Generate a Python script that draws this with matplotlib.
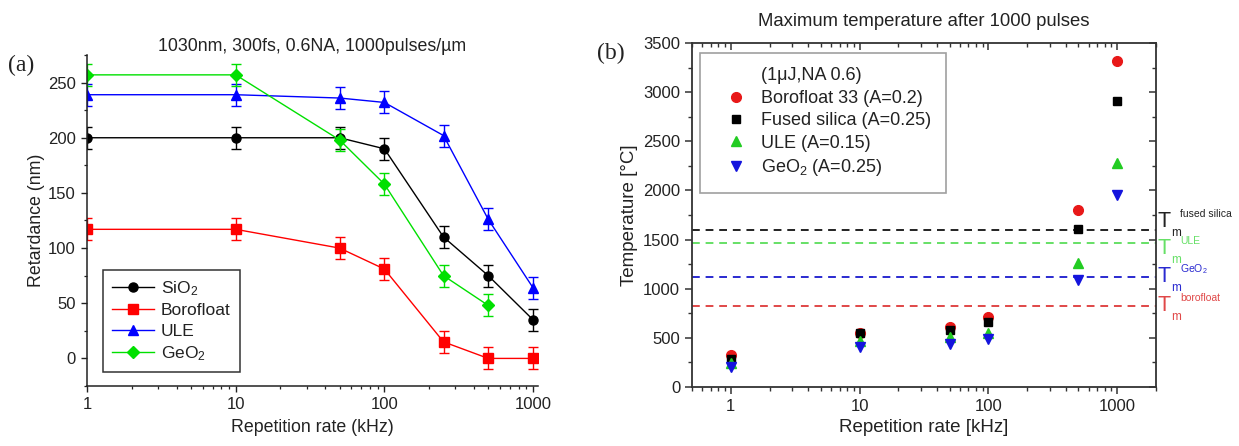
import matplotlib
matplotlib.use("Agg")
import matplotlib.pyplot as plt
from matplotlib.lines import Line2D
from matplotlib.ticker import FixedLocator, MultipleLocator, LogLocator, NullFormatter
from matplotlib.transforms import blended_transform_factory, offset_copy

plt.rcParams['font.family'] = ['Liberation Sans', 'DejaVu Sans']
plt.rcParams['mathtext.fontset'] = 'custom'
plt.rcParams['mathtext.rm'] = 'Liberation Sans'
plt.rcParams['mathtext.it'] = 'Liberation Sans:italic'

# ---------------- data: panel (a) ----------------
rate_a = [1, 10, 50, 100, 250, 500, 1000]
ret_sio2 = [200, 200, 200, 190, 110, 75, 35]
ret_boro = [117, 117, 100, 81, 15, 0, 0]
ret_ule = [239, 239, 236, 232, 202, 126, 64]
rate_geo2 = [1, 10, 50, 100, 250, 500]
ret_geo2 = [257, 257, 198, 158, 75, 48]
ret_err = 10
names_a = ['SiO$_2$', 'Borofloat', 'ULE', 'GeO$_2$']
title_a = '1030nm, 300fs, 0.6NA, 1000pulses/\u00b5m'

# ---------------- data: panel (b) ----------------
rate_b = [1, 10, 50, 100, 500, 1000]
t_boro = [325, 553, 612, 713, 1805, 3320]
t_fs = [285, 550, 582, 663, 1605, 2913]
t_ule = [245, 470, 508, 550, 1265, 2280]
t_geo2 = [205, 410, 437, 487, 1090, 1955]
names_b = ['Borofloat 33 (A=0.2)', 'Fused silica (A=0.25)', 'ULE (A=0.15)', 'GeO$_2$ (A=0.25)']
legend_title_b = '(1\u03bcJ,NA 0.6)'
tm_values = [1600, 1470, 1120, 828]
tm_names = ['fused silica', 'ULE', 'GeO$_2$', 'borofloat']
title_b = 'Maximum temperature after 1000 pulses'

W, H = 1239, 446
fig = plt.figure(figsize=(W / 100, H / 100), dpi=100)
tick_col = '#222222'

# ================= panel (a) =================
ax1 = fig.add_axes([87 / W, 60 / H, 451 / W, 331 / H])
cols_a = ['black', '#ff0000', '#0000ff', '#00e000']
marks_a = ['o', 's', '^', 'D']
msz_a = [6.5, 6.5, 7, 6]
xs_a = [rate_a, rate_a, rate_a, rate_geo2]
ys_a = [ret_sio2, ret_boro, ret_ule, ret_geo2]
handles_a = []
for x, y, c, m, ms, nm in zip(xs_a, ys_a, cols_a, marks_a, msz_a, names_a):
    ax1.errorbar(x, y, yerr=ret_err, color=c, marker=m, ms=ms, lw=1.0,
                 capsize=3.5, elinewidth=1.0, capthick=1.0)
    handles_a.append(Line2D([], [], color=c, marker=m, ms=ms, lw=1.0, label=nm))

ax1.set_xscale('log')
ax1.set_xlim(1, 1080)
ax1.set_ylim(-25, 275)
ax1.spines['top'].set_visible(False)
ax1.spines['right'].set_visible(False)
for s in ['left', 'bottom']:
    ax1.spines[s].set_linewidth(1.1)
    ax1.spines[s].set_color('#222222')
ax1.xaxis.set_major_locator(FixedLocator([1, 10, 100, 1000]))
ax1.set_xticklabels(['1', '10', '100', '1000'])
ax1.xaxis.set_minor_locator(LogLocator(base=10, subs=range(2, 10)))
ax1.xaxis.set_minor_formatter(NullFormatter())
ax1.yaxis.set_major_locator(MultipleLocator(50))
ax1.yaxis.set_minor_locator(MultipleLocator(25))
ax1.tick_params(which='major', direction='out', length=4.5, width=1.0,
                labelsize=12, labelcolor=tick_col, color='#222222')
ax1.tick_params(which='minor', direction='out', length=2.5, width=0.9, color='#222222')
ax1.set_xlabel('Repetition rate (kHz)', fontsize=12.8, color='#222222', labelpad=5)
ax1.set_ylabel('Retardance (nm)', fontsize=12.8, color='#222222', labelpad=2)
ax1.set_title(title_a, fontsize=12.8, color='#222222', pad=3)

leg1 = ax1.legend(handles=handles_a, loc='lower left', bbox_to_anchor=(0.035, 0.042),
                  borderaxespad=0, fontsize=12.5, frameon=True, fancybox=False,
                  edgecolor='black', handlelength=2.4, handletextpad=0.4,
                  labelspacing=0.3, borderpad=0.55)
leg1.get_frame().set_linewidth(1.1)
for t in leg1.get_texts():
    t.set_color('#222222')

fig.text(8 / W, 1 - 65 / H, '(a)', fontsize=17, family='Liberation Serif',
         va='center', ha='left', color='#222222')

# ================= panel (b) =================
ax2 = fig.add_axes([692 / W, 59 / H, 464 / W, 344 / H])
series_b = [t_boro, t_fs, t_ule, t_geo2]
cols_b = ['#e81818', '#000000', '#22cc22', '#1414dd']
marks_b = ['o', 's', '^', 'v']
msz_b = [7, 6, 7.5, 7.5]
handles_b = [Line2D([], [], linestyle='none', marker=None, label=legend_title_b)]
for y, c, m, ms, nm in zip(series_b, cols_b, marks_b, msz_b, names_b):
    ax2.plot(rate_b, y, linestyle='none', marker=m, ms=ms, color=c, mec=c, zorder=3)
    handles_b.append(Line2D([], [], linestyle='none', marker=m, ms=ms, color=c, label=nm))

tm_cols = ['#222222', '#66e066', '#2a2ad0', '#e04848']
for v, c in zip(tm_values, tm_cols):
    ax2.axhline(v, color=c, ls=(0, (4, 3)), lw=1.4, zorder=2)

ax2.set_xscale('log')
ax2.set_xlim(0.5, 2000)
ax2.set_ylim(0, 3500)
for s in ax2.spines.values():
    s.set_linewidth(1.3)
    s.set_color('#333333')
ax2.xaxis.set_major_locator(FixedLocator([1, 10, 100, 1000]))
ax2.set_xticklabels(['1', '10', '100', '1000'])
ax2.xaxis.set_minor_locator(LogLocator(base=10, subs=range(2, 10)))
ax2.xaxis.set_minor_formatter(NullFormatter())
ax2.yaxis.set_major_locator(MultipleLocator(500))
ax2.yaxis.set_minor_locator(MultipleLocator(250))
ax2.tick_params(which='major', direction='out', length=5, width=1.1,
                labelsize=12, labelcolor=tick_col, color='#333333')
ax2.tick_params(which='minor', direction='out', length=3, width=1.0, color='#333333')

# inward ticks on top and right
sx = ax2.secondary_xaxis('top')
sx.xaxis.set_major_locator(FixedLocator([1, 10, 100, 1000]))
sx.xaxis.set_minor_locator(LogLocator(base=10, subs=range(2, 10)))
sx.xaxis.set_minor_formatter(NullFormatter())
sx.tick_params(which='major', direction='in', length=5, width=1.1, labeltop=False, color='#333333')
sx.tick_params(which='minor', direction='in', length=3, width=1.0, color='#333333')
sx.spines['top'].set_visible(False)
sy = ax2.secondary_yaxis('right')
sy.yaxis.set_major_locator(MultipleLocator(500))
sy.yaxis.set_minor_locator(MultipleLocator(250))
sy.tick_params(which='major', direction='in', length=5, width=1.1, labelright=False, color='#333333')
sy.tick_params(which='minor', direction='in', length=3, width=1.0, color='#333333')
sy.spines['right'].set_visible(False)

ax2.set_xlabel('Repetition rate [kHz]', fontsize=13.5, color='#222222', labelpad=4)
ax2.set_ylabel('Temperature [\u00b0C]', fontsize=13.5, color='#222222', labelpad=4)
ax2.set_title(title_b, fontsize=13.3, color='#222222', pad=12)

leg2 = ax2.legend(handles=handles_b, loc='upper left', bbox_to_anchor=(0.017, 0.971),
                  borderaxespad=0, fontsize=13, frameon=True, fancybox=False,
                  edgecolor='#888888', handlelength=2.4, handletextpad=0.2,
                  labelspacing=0.3, borderpad=0.8)
leg2.get_frame().set_linewidth(1.2)
for t in leg2.get_texts():
    t.set_color('#222222')

# melting temperature labels at right of panel (b)
bt = blended_transform_factory(ax2.transAxes, ax2.transData)
t_dy = [8, -6, 0, 0]  # pixel shift of "T" (up positive)
for v, c, nm, dy in zip(tm_values, tm_cols, tm_names, t_dy):
    tr_T = offset_copy(bt, fig=fig, x=2, y=dy, units='dots')
    ax2.text(1.0, v, 'T', transform=tr_T, fontsize=15.5, color=c,
             ha='left', va='center', clip_on=False)
    tr_m = offset_copy(bt, fig=fig, x=15, y=dy - 11, units='dots')
    ax2.text(1.0, v, 'm', transform=tr_m, fontsize=8.5, color=c,
             ha='left', va='center', clip_on=False)
    tr_s = offset_copy(bt, fig=fig, x=24, y=dy + 8, units='dots')
    ax2.text(1.0, v, nm, transform=tr_s, fontsize=7.5, color=c,
             ha='left', va='center', clip_on=False)

fig.text(597 / W, 1 - 53 / H, '(b)', fontsize=17, family='Liberation Serif',
         va='center', ha='left', color='#222222')

fig.savefig('out.png', dpi=100)
